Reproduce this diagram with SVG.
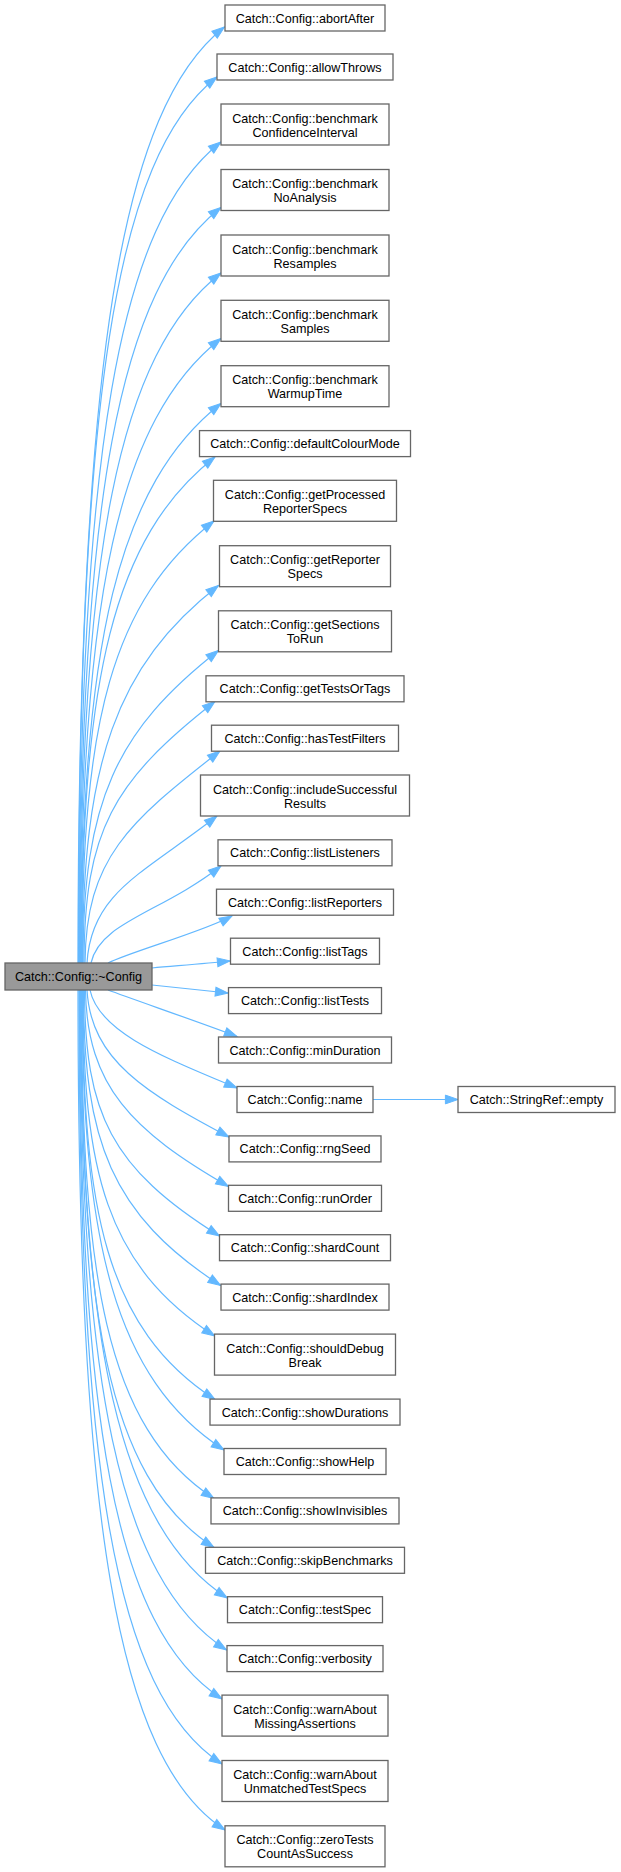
<svg xmlns="http://www.w3.org/2000/svg" width="621" height="1872" viewBox="0 0 621 1872">
<style>
.n rect{fill:#ffffff;stroke:#666666;stroke-width:1.3}
.r rect{fill:#999999;stroke:#666666;stroke-width:1.3}
text{font-family:"Liberation Sans",Arial,Helvetica,sans-serif;font-size:12.6px;text-anchor:middle;fill:#000000}
#edges path{fill:none;stroke:#63b8ff;stroke-width:1.2;marker-end:url(#arr)}
</style>
<defs>
<marker id="arr" markerUnits="userSpaceOnUse" orient="auto" markerWidth="14" markerHeight="10" refX="12.6" refY="0" viewBox="0 -5 14 10" overflow="visible">
<path d="M0,-4.4 L12.6,0 L0,4.4 z" fill="#63b8ff" stroke="#63b8ff" stroke-width="1"/>
</marker>
</defs>
<rect width="621" height="1872" fill="#ffffff"/>
<g id="edges">
<path d="M78,963 C78,354.6 122.1,107.1 224.5,27"/>
<path d="M78.5,963 C78.5,396 114.6,157.1 217,77"/>
<path d="M79,963 C79,449 118.6,222.1 221,142"/>
<path d="M79.5,963 C79.5,500.6 118.6,287.6 221,207.5"/>
<path d="M80,963 C80,550.4 118.6,353.1 221,273"/>
<path d="M80.5,963 C80.5,598.3 118.6,418.6 221,338.5"/>
<path d="M81,963 C81,644.1 118.6,483.6 221,403.5"/>
<path d="M81.5,963 C81.5,680.7 112.6,537.1 215,457"/>
<path d="M82,963 C82,722.1 111.6,601.1 214,521"/>
<path d="M82.5,963 C82.5,762.5 116.1,665.6 218.5,585.5"/>
<path d="M83,963 C83,801.4 116.1,730.6 218.5,650.5"/>
<path d="M84,963 C84.5,830.7 112.6,781.6 215,701.5"/>
<path d="M85,963 C86,858 128.4,822.6 220,751"/>
<path d="M87,963 C91,892.3 143.3,873.6 217,816"/>
<path d="M91,963 C100,922 161.1,912.8 221,866"/>
<path d="M108,963 C130,952 205,931 232,916"/>
<path d="M152,968 C180,965.5 205,963.5 230,961"/>
<path d="M152,985 C180,988 205,990.5 228,993"/>
<path d="M108,990 C135,1000 210,1026 237,1036.5"/>
<path d="M90,990 C99,1033 166.7,1058.2 237,1088"/>
<path d="M87,990 C91,1060.7 146.4,1093.1 229,1137"/>
<path d="M85.5,990 C87,1086.7 132.5,1131.1 228.5,1186.5"/>
<path d="M84.5,990 C85,1113.7 110.9,1168.1 219.5,1236"/>
<path d="M83.5,990 C83.5,1141.6 111.5,1214.6 220.6,1285.5"/>
<path d="M83,990 C83,1171.3 105.6,1265.1 214.7,1336"/>
<path d="M82.5,990 C82.5,1210.3 105.9,1328.6 215,1399.5"/>
<path d="M82,990 C82,1242.1 114.9,1379.1 224,1450"/>
<path d="M81.5,990 C81.5,1274.3 104.9,1427.6 214,1498.5"/>
<path d="M81,990 C81,1307.2 104.9,1476.6 214,1547.5"/>
<path d="M80.5,990 C80.5,1342.6 118.2,1527.1 227.3,1598"/>
<path d="M80,990 C80,1380.1 117.4,1579.1 226.5,1650"/>
<path d="M79.5,990 C79.5,1416.8 112.9,1628.1 222,1699"/>
<path d="M79,990 C79,1466.8 112.9,1693.1 222,1764"/>
<path d="M78,990 C78,1519.2 115.9,1759.1 225,1830"/>
<path d="M373,1099.5 L458,1099.5"/>
</g>
<g id="root" class="r"><rect x="5" y="963" width="147" height="27"/><text x="78.5" y="981">Catch::Config::~Config</text></g>
<g id="abortAfter" class="n"><rect x="225" y="5" width="160" height="26"/><text x="305" y="22.5">Catch::Config::abortAfter</text></g>
<g id="allowThrows" class="n"><rect x="217" y="54" width="176" height="26"/><text x="305" y="71.5">Catch::Config::allowThrows</text></g>
<g id="benchmarkConfidenceInterval" class="n"><rect x="221" y="104" width="168" height="41"/><text x="305" y="122.5">Catch::Config::benchmark</text><text x="305" y="136.5">ConfidenceInterval</text></g>
<g id="benchmarkNoAnalysis" class="n"><rect x="221" y="169.5" width="168" height="41"/><text x="305" y="188">Catch::Config::benchmark</text><text x="305" y="202">NoAnalysis</text></g>
<g id="benchmarkResamples" class="n"><rect x="221" y="235" width="168" height="41"/><text x="305" y="253.5">Catch::Config::benchmark</text><text x="305" y="267.5">Resamples</text></g>
<g id="benchmarkSamples" class="n"><rect x="221" y="300.3" width="168" height="41"/><text x="305" y="318.8">Catch::Config::benchmark</text><text x="305" y="332.8">Samples</text></g>
<g id="benchmarkWarmupTime" class="n"><rect x="221" y="365.7" width="168" height="41"/><text x="305" y="384.2">Catch::Config::benchmark</text><text x="305" y="398.2">WarmupTime</text></g>
<g id="defaultColourMode" class="n"><rect x="199.5" y="430.6" width="211" height="26"/><text x="305" y="448.1">Catch::Config::defaultColourMode</text></g>
<g id="getProcessedReporterSpecs" class="n"><rect x="213.5" y="480.3" width="183" height="41"/><text x="305" y="498.8">Catch::Config::getProcessed</text><text x="305" y="512.8">ReporterSpecs</text></g>
<g id="getReporterSpecs" class="n"><rect x="219.5" y="545.7" width="171" height="41"/><text x="305" y="564.2">Catch::Config::getReporter</text><text x="305" y="578.2">Specs</text></g>
<g id="getSectionsToRun" class="n"><rect x="218.5" y="610.8" width="173" height="41"/><text x="305" y="629.3">Catch::Config::getSections</text><text x="305" y="643.3">ToRun</text></g>
<g id="getTestsOrTags" class="n"><rect x="206" y="675.8" width="198" height="26"/><text x="305" y="693.3">Catch::Config::getTestsOrTags</text></g>
<g id="hasTestFilters" class="n"><rect x="211.5" y="725.2" width="187" height="26"/><text x="305" y="742.7">Catch::Config::hasTestFilters</text></g>
<g id="includeSuccessfulResults" class="n"><rect x="200.5" y="775" width="209" height="41"/><text x="305" y="793.5">Catch::Config::includeSuccessful</text><text x="305" y="807.5">Results</text></g>
<g id="listListeners" class="n"><rect x="218" y="839.8" width="174" height="26"/><text x="305" y="857.3">Catch::Config::listListeners</text></g>
<g id="listReporters" class="n"><rect x="216.5" y="889.2" width="177" height="26"/><text x="305" y="906.7">Catch::Config::listReporters</text></g>
<g id="listTags" class="n"><rect x="230.5" y="938.2" width="149" height="26"/><text x="305" y="955.7">Catch::Config::listTags</text></g>
<g id="listTests" class="n"><rect x="228.5" y="987.6" width="153" height="26"/><text x="305" y="1005.1">Catch::Config::listTests</text></g>
<g id="minDuration" class="n"><rect x="218.5" y="1037" width="173" height="26"/><text x="305" y="1054.5">Catch::Config::minDuration</text></g>
<g id="name" class="n"><rect x="237" y="1086.5" width="136" height="26"/><text x="305" y="1104">Catch::Config::name</text></g>
<g id="stringRefEmpty" class="n"><rect x="458" y="1086.5" width="157" height="26"/><text x="536.5" y="1104">Catch::StringRef::empty</text></g>
<g id="rngSeed" class="n"><rect x="229" y="1135.9" width="152" height="26"/><text x="305" y="1153.4">Catch::Config::rngSeed</text></g>
<g id="runOrder" class="n"><rect x="228.5" y="1185.3" width="153" height="26"/><text x="305" y="1202.8">Catch::Config::runOrder</text></g>
<g id="shardCount" class="n"><rect x="219.5" y="1234.7" width="171" height="26"/><text x="305" y="1252.2">Catch::Config::shardCount</text></g>
<g id="shardIndex" class="n"><rect x="221" y="1284.1" width="168" height="26"/><text x="305" y="1301.6">Catch::Config::shardIndex</text></g>
<g id="shouldDebugBreak" class="n"><rect x="214.5" y="1334.1" width="181" height="41"/><text x="305" y="1352.6">Catch::Config::shouldDebug</text><text x="305" y="1366.6">Break</text></g>
<g id="showDurations" class="n"><rect x="210" y="1399.1" width="190" height="26"/><text x="305" y="1416.6">Catch::Config::showDurations</text></g>
<g id="showHelp" class="n"><rect x="224" y="1448.5" width="162" height="26"/><text x="305" y="1466">Catch::Config::showHelp</text></g>
<g id="showInvisibles" class="n"><rect x="211" y="1497.9" width="188" height="26"/><text x="305" y="1515.4">Catch::Config::showInvisibles</text></g>
<g id="skipBenchmarks" class="n"><rect x="205.5" y="1547.3" width="199" height="26"/><text x="305" y="1564.8">Catch::Config::skipBenchmarks</text></g>
<g id="testSpec" class="n"><rect x="227.5" y="1596.7" width="155" height="26"/><text x="305" y="1614.2">Catch::Config::testSpec</text></g>
<g id="verbosity" class="n"><rect x="227" y="1645.6" width="156" height="26"/><text x="305" y="1663.1">Catch::Config::verbosity</text></g>
<g id="warnAboutMissingAssertions" class="n"><rect x="222" y="1695.1" width="166" height="41"/><text x="305" y="1713.6">Catch::Config::warnAbout</text><text x="305" y="1727.6">MissingAssertions</text></g>
<g id="warnAboutUnmatchedTestSpecs" class="n"><rect x="222" y="1760.5" width="166" height="41"/><text x="305" y="1779">Catch::Config::warnAbout</text><text x="305" y="1793">UnmatchedTestSpecs</text></g>
<g id="zeroTestsCountAsSuccess" class="n"><rect x="225" y="1825.8" width="160" height="41"/><text x="305" y="1844.3">Catch::Config::zeroTests</text><text x="305" y="1858.3">CountAsSuccess</text></g>
</svg>
